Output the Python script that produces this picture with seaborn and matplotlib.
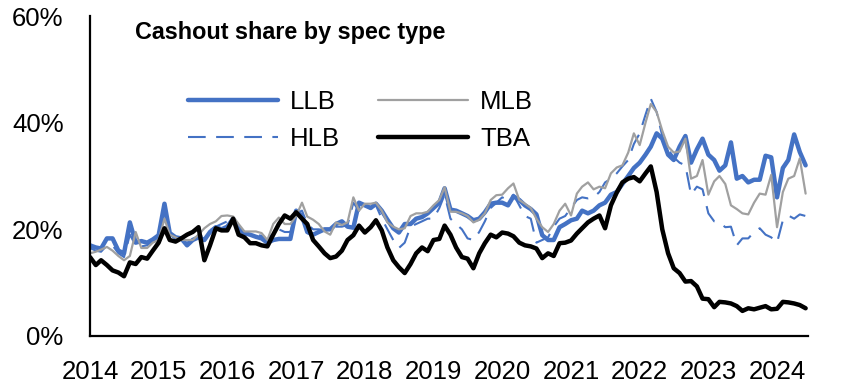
"""
Cashout share by spec type (LLB / MLB / HLB / TBA), monthly 2014 - mid 2024
"""
import matplotlib
matplotlib.use("Agg")
import matplotlib.pyplot as plt
import numpy as np
import pandas as pd
import seaborn as sns
from matplotlib.ticker import PercentFormatter

# monthly values in %, Jan 2014 .. Jun 2024
llb = [
    17.0, 16.6, 16.4, 18.3, 18.3, 16.0, 15.5, 21.3, 17.5, 17.8, 17.5, 18.1,
    18.9, 24.8, 19.3, 18.5, 18.3, 17.0, 18.0, 18.5, 18.0, 19.5, 20.4, 20.0,
    20.5, 22.0, 20.0, 19.3, 19.0, 18.6, 18.3, 17.5, 18.0, 18.2, 18.2, 18.2,
    23.5, 22.5, 19.5, 19.0, 19.5, 20.0, 20.0, 21.0, 21.5, 20.5, 20.3, 25.0,
    24.5, 24.0, 24.8, 23.5, 21.8, 20.2, 19.4, 21.0, 21.0, 22.0, 22.3, 23.0,
    24.0, 25.0, 27.7, 23.7, 23.5, 23.0, 22.5, 21.7, 22.0, 23.2, 24.8, 25.0,
    25.0, 24.5, 26.2, 25.5, 24.5, 23.8, 22.8, 18.9, 18.0, 18.0, 20.4, 21.0,
    21.7, 22.0, 23.5, 23.0, 23.5, 24.5, 25.0, 26.5, 27.0, 28.5, 30.0, 31.5,
    32.5, 34.0, 35.5, 38.0, 37.0, 34.0, 33.0, 35.5, 37.5, 32.5, 35.0, 37.0,
    34.0, 33.0, 31.0, 32.0, 36.3, 29.5, 30.0, 28.8, 29.3, 29.3, 33.8, 33.5,
    26.0, 31.5, 33.0, 37.8, 34.5, 32.0,
]
mlb = [
    15.5, 15.8, 16.2, 16.7, 16.0, 15.0, 14.2, 15.0, 19.5, 16.5, 16.5, 17.5,
    18.0, 22.0, 19.0, 18.5, 18.0, 18.0, 18.0, 19.0, 20.2, 21.0, 21.5, 22.5,
    22.6, 22.4, 21.0, 19.6, 19.6, 19.6, 19.3, 18.0, 21.0, 22.2, 21.0, 21.0,
    22.5, 25.0, 22.4, 21.8, 21.0, 19.6, 19.0, 21.3, 20.8, 21.3, 26.0, 23.5,
    24.8, 24.8, 25.0, 23.5, 21.3, 20.5, 20.0, 20.2, 22.5, 23.0, 23.0, 23.3,
    24.5, 25.5, 27.9, 23.3, 23.3, 23.0, 22.5, 21.3, 21.8, 23.0, 25.5, 26.4,
    26.5, 27.7, 28.6, 25.5, 24.8, 24.0, 22.0, 20.4, 19.5, 21.0, 23.5, 24.8,
    22.6, 26.7, 28.0, 28.8, 27.5, 28.0, 27.7, 30.5, 31.6, 32.0, 34.4, 38.0,
    35.8, 40.0, 43.5, 42.0, 38.5, 35.5, 34.4, 34.6, 37.0, 29.5, 30.0, 33.0,
    26.5, 29.0, 30.0, 28.5, 24.5, 23.8, 23.0, 22.8, 25.0, 26.7, 26.5, 30.2,
    20.4, 27.0, 29.5, 30.0, 33.3, 26.7,
]
hlb = [
    16.5, 16.0, 15.8, 17.0, 17.0, 15.5, 14.8, 19.0, 17.0, 16.8, 17.0, 17.8,
    18.5, 23.0, 19.0, 18.3, 18.0, 17.5, 18.0, 18.5, 19.0, 19.8, 20.5, 21.0,
    21.5, 21.8, 20.5, 19.5, 19.2, 19.0, 18.8, 17.8, 19.5, 20.0, 19.5, 19.5,
    23.0, 23.5, 21.0, 20.0, 20.0, 19.8, 19.5, 20.5, 20.5, 20.8, 25.0, 23.5,
    24.0, 24.0, 24.5, 22.0, 20.0, 18.0, 16.5, 17.5, 20.5, 21.0, 21.5, 22.0,
    22.0, 24.0, 26.5, 22.0, 21.0, 20.0, 18.3, 18.0, 19.5, 21.5, 24.0, 25.0,
    26.0, 25.5, 26.5, 24.5, 22.5, 22.0, 17.5, 18.0, 18.5, 20.5, 22.0, 22.5,
    24.0, 25.5, 26.0, 25.8, 26.0, 27.0, 28.8, 29.5, 30.5, 31.8, 33.0, 36.0,
    38.0, 41.5, 44.5, 42.0, 37.5, 35.0, 33.5, 32.5, 32.0, 26.5, 28.0, 27.5,
    23.0, 21.5, 21.3, 20.4, 20.5, 17.0, 18.3, 18.3, 19.5, 20.2, 19.0, 18.5,
    17.5, 21.7, 22.6, 22.0, 22.8, 22.5,
]
tba = [
    14.8, 13.3, 14.2, 13.3, 12.3, 11.9, 11.2, 13.8, 13.5, 14.8, 14.5, 16.0,
    17.5, 20.2, 18.0, 17.7, 18.3, 19.0, 19.5, 20.4, 14.2, 17.0, 20.2, 19.8,
    19.8, 22.0, 19.0, 18.5, 17.4, 17.4, 17.0, 16.8, 19.0, 21.0, 22.6, 22.0,
    23.2, 22.0, 21.0, 18.0, 16.8, 15.5, 14.6, 14.9, 16.0, 18.0, 18.9, 20.7,
    19.4, 20.4, 21.7, 19.8, 16.6, 14.2, 12.9, 11.8, 13.5, 15.5, 16.6, 15.9,
    18.0, 18.2, 20.7, 19.0, 16.6, 14.8, 14.5, 12.7, 15.5, 17.4, 19.0, 18.5,
    19.4, 19.2, 18.7, 17.5, 17.0, 16.8, 16.4, 14.6, 15.5, 15.0, 17.4, 17.5,
    17.9, 19.2, 20.2, 21.3, 22.0, 22.6, 20.2, 24.5, 26.9, 28.8, 29.5, 29.8,
    29.0, 30.5, 31.8, 27.0, 20.0, 15.5, 12.7, 11.8, 10.2, 10.3, 9.3, 7.0,
    6.9, 5.4, 6.4, 6.3, 6.1, 5.6, 4.7, 5.2, 5.0, 5.3, 5.6, 5.0,
    5.1, 6.4, 6.3, 6.1, 5.8, 5.2,
]
series_names = ["LLB", "HLB", "MLB", "TBA"]
series_values = [llb, hlb, mlb, tba]
year_labels = [str(y) for y in range(2014, 2025)]
y_ticks = [0, 20, 40, 60]

sns.set_theme(style="white")
plt.rcParams["font.family"] = ["Liberation Sans", "DejaVu Sans"]
plt.rcParams["text.color"] = "black"

dates = pd.date_range("2014-01-01", periods=len(llb), freq="MS")
df = pd.DataFrame({name: vals for name, vals in zip(series_names, series_values)}, index=dates)
df.index.name = "date"
long = df.reset_index().melt(id_vars="date", var_name="spec", value_name="share")

styles = {
    "LLB": dict(color="#4472C4", lw=3.2, ls="-"),
    "HLB": dict(color="#4472C4", lw=1.5, ls=(0, (8.5, 5))),
    "MLB": dict(color="#A0A0A0", lw=1.6, ls="-"),
    "TBA": dict(color="#000000", lw=3.2, ls="-"),
}

fig = plt.figure(figsize=(8.52, 3.91), dpi=100)
ax = fig.add_axes([0.1056, 0.1407, 0.8424, 0.8183])

for name in series_names:
    st = styles[name]
    sub = long[long["spec"] == name]
    sns.lineplot(data=sub, x="date", y="share", ax=ax, color=st["color"],
                 linewidth=st["lw"], linestyle=st["ls"], label=name)

ax.set_ylim(0, 60)
ax.set_yticks(y_ticks)
ax.yaxis.set_major_formatter(PercentFormatter(decimals=0))
ax.set_xlim(pd.Timestamp("2014-01-01"), pd.Timestamp("2024-06-12"))
ax.set_xticks([pd.Timestamp(f"{y}-01-01") for y in year_labels])
ax.set_xticklabels(year_labels)
ax.set_xlabel("")
ax.set_ylabel("")

for side in ["top", "right"]:
    ax.spines[side].set_visible(False)
for side in ["left", "bottom"]:
    ax.spines[side].set_color("black")
    ax.spines[side].set_linewidth(1.6)
ax.tick_params(axis="both", which="major", direction="out", length=6, width=1.6,
               color="black", labelsize=18.5, labelcolor="black")
ax.tick_params(axis="x", pad=11)
ax.tick_params(axis="y", pad=13)

leg = ax.legend(ncol=2, loc="upper left", bbox_to_anchor=(0.221, 0.77),
                bbox_transform=fig.transFigure, frameon=False, fontsize=18.5,
                handlelength=3.5, handletextpad=0.45, columnspacing=1.5,
                labelspacing=0.5, borderpad=0, borderaxespad=0)
for t in leg.get_texts():
    t.set_color("black")

fig.text(0.158, 0.918, "Cashout share by spec type", ha="left", va="center",
         fontsize=16.8, fontweight="bold", color="black")

fig.savefig("out.png", dpi=100, facecolor="white")
